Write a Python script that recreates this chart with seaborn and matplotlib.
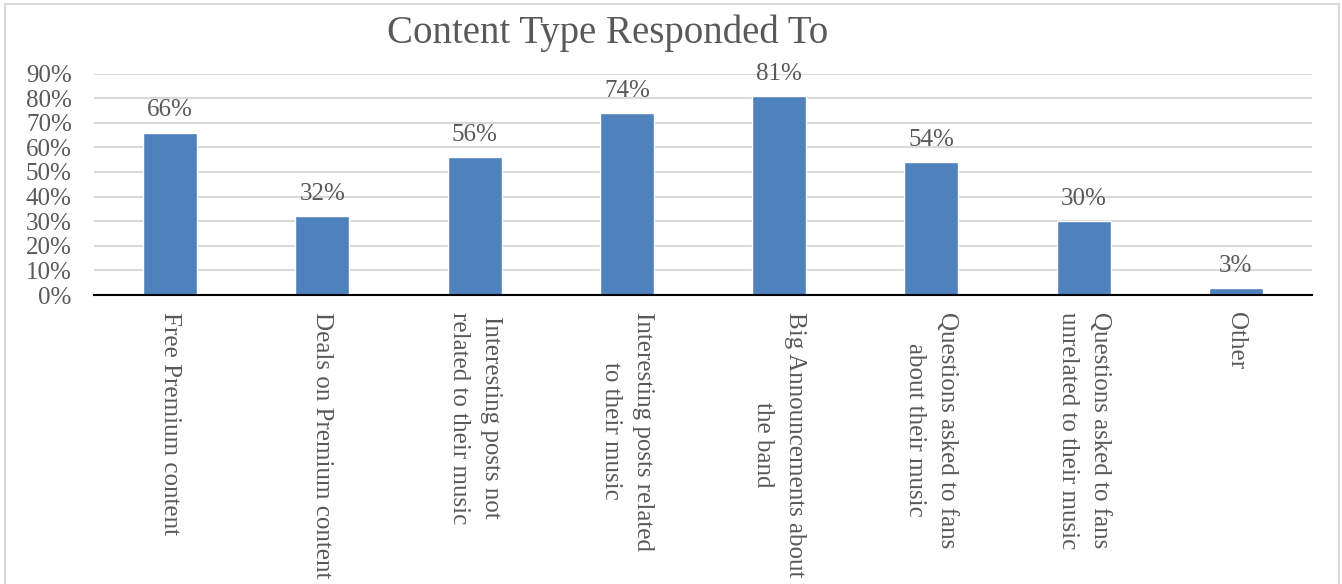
import matplotlib
matplotlib.use("Agg")
import matplotlib.pyplot as plt
from matplotlib.patches import Rectangle
import seaborn as sns

categories = [
    "Free Premium content",
    "Deals on Premium content",
    "Interesting posts not\nrelated to their music",
    "Interesting posts related\nto their music",
    "Big Announcements about\nthe band",
    "Questions asked to fans\nabout their music",
    "Questions asked to fans\nunrelated to their music",
    "Other",
]
values = [66, 32, 56, 74, 81, 54, 30, 3]
yticks = [0, 10, 20, 30, 40, 50, 60, 70, 80, 90]
title = "Content Type Responded To"

sns.set_theme(style="white")
plt.rcParams["font.family"] = ["Liberation Serif", "DejaVu Serif"]

TXT = "#595959"
BAR = "#4F81BD"
GRID = "#D9D9D9"

W, H = 1342, 584
fig = plt.figure(figsize=(W / 100, H / 100), dpi=100)
ax = fig.add_axes([94 / W, 1 - 295 / H, (1312 - 94) / W, (295 - 73.5) / H])

sns.barplot(x=categories, y=values, color=BAR, width=0.355, saturation=1, ax=ax)

ax.set_ylim(0, 90)
ax.set_xlim(-0.5, len(categories) - 0.5)
ax.set_yticks(yticks)
ax.set_yticklabels([f"{t}%" for t in yticks], color=TXT, fontsize=18)
ax.yaxis.grid(True, color=GRID, linewidth=1.5)
ax.set_axisbelow(True)
for s in ["top", "right", "left"]:
    ax.spines[s].set_visible(False)
ax.spines["bottom"].set_color("#000000")
ax.spines["bottom"].set_linewidth(1.5)
ax.tick_params(axis="both", length=0)
ax.tick_params(axis="y", pad=16)
ax.tick_params(axis="x", pad=12)
ax.set_xlabel("")
ax.set_ylabel("")

ax.set_xticks(range(len(categories)))
ax.set_xticklabels(categories, rotation=270, ha="center", va="top",
                   multialignment="center", color=TXT, fontsize=18,
                   linespacing=1.6)

ax.bar_label(ax.containers[0], labels=[f"{v}%" for v in values],
             padding=8, color=TXT, fontsize=18)

fig.text(608 / W, 1 - 33 / H, title, ha="center", va="center",
         color=TXT, fontsize=28)

fig.patches.append(Rectangle((5 / W, -0.1), (1339 - 5) / W, 1.1 - 4 / H,
                             transform=fig.transFigure, fill=False,
                             edgecolor=GRID, linewidth=1.5))

fig.savefig("out.png", dpi=100)
